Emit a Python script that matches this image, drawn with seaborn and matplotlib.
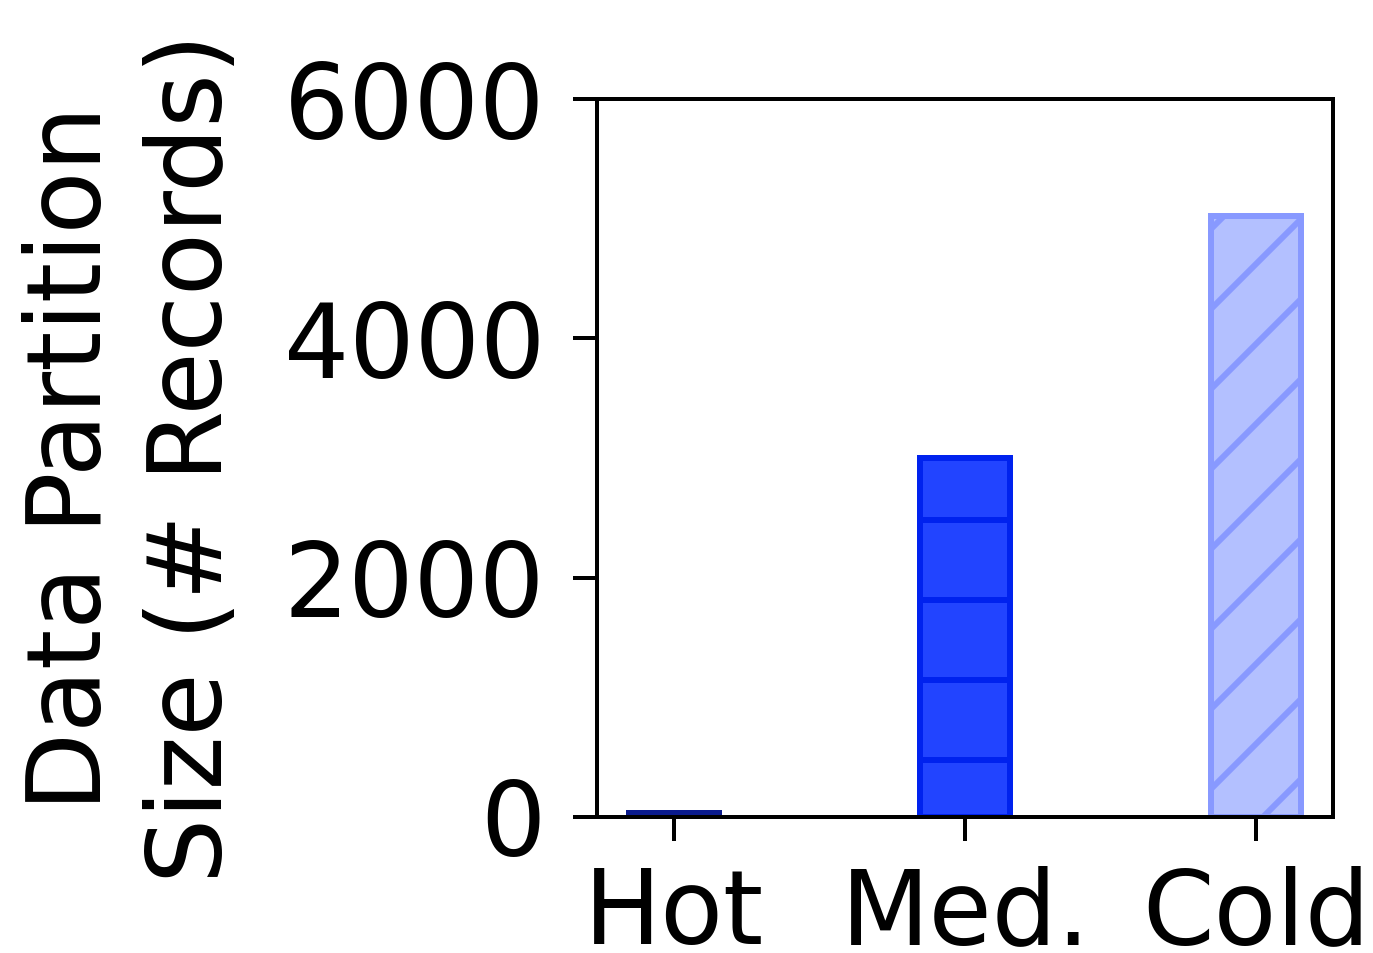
import matplotlib
matplotlib.use("Agg")
import matplotlib.pyplot as plt
import seaborn as sns
import pandas as pd

categories = ["Hot", "Med.", "Cold"]
sizes = [30, 3000, 5020]
fill_colors = ["#0a1a8c", "#2244ff", "#b3c0ff"]
edge_colors = ["#0a1a8c", "#0022ee", "#8899ff"]
hatches = ["", "-", "//"]

sns.set_style("ticks")
plt.rcParams["font.family"] = ["DejaVu Sans"]
plt.rcParams["hatch.linewidth"] = 0.9
plt.rcParams["text.color"] = "black"
plt.rcParams["axes.labelcolor"] = "black"
plt.rcParams["xtick.color"] = "black"
plt.rcParams["ytick.color"] = "black"

df = pd.DataFrame({"cat": categories, "size": sizes})

fig = plt.figure(figsize=(1373 / 480, 953 / 480), dpi=480)
ax = fig.add_axes([0.435, 0.143, 0.536, 0.753])
sns.barplot(data=df, x="cat", y="size", hue="cat", palette=fill_colors,
            width=0.31, legend=False, ax=ax, saturation=1)
for p, ec, h in zip(ax.patches, edge_colors, hatches):
    p.set_edgecolor(ec)
    p.set_hatch(h)
    p.set_linewidth(0.9)

ax.set_xlim(-0.265, 2.265)
ax.set_ylim(0, 6000)
ax.set_yticks([0, 2000, 4000, 6000])
ax.set_xlabel("")
ax.set_ylabel("Data Partition\nSize (# Records)", fontsize=15.4, labelpad=6,
              linespacing=1.25)
ax.tick_params(axis="both", labelsize=15.4, length=3.6, width=0.6, pad=4.2,
               colors="black")
ax.tick_params(axis="x", pad=3.6)
for s in ax.spines.values():
    s.set_linewidth(0.6)
    s.set_visible(True)
    s.set_color("black")

fig.savefig("out.png", dpi=480)
